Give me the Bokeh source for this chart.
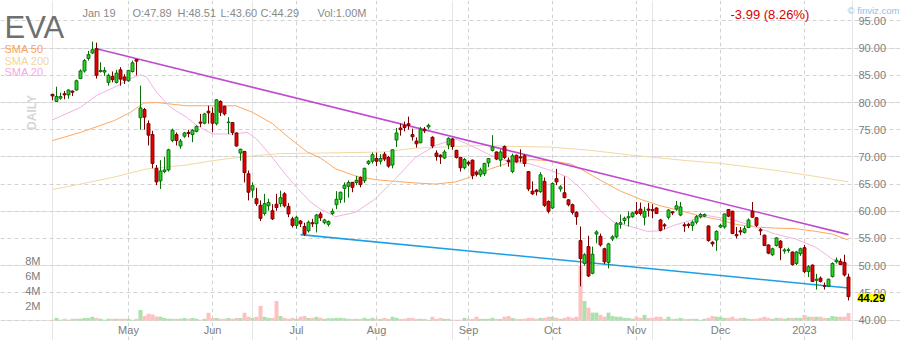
from math import pi
from bokeh.plotting import figure
from bokeh.models import (ColumnDataSource, Range1d, LinearAxis, FixedTicker, Label, Grid,
                          CustomJSTickFormatter)
from bokeh.embed import file_html
from bokeh.resources import INLINE

# ---------------- data (daily candles, Apr 4 2022 .. Jan 19 2023) ----------------
opens = [81.5, 80.2, 80.8, 81.6, 81.4, 82.1, 82.3, 84.4, 85.8, 88.1,
         89.1, 89.9, 85.7, 85.6, 83.7, 84.8, 83.7, 86.0, 84.7, 84.0,
         85.7, 87.9, 77.2, 78.7, 76.1, 74.1, 67.9, 65.6, 67.3, 67.6,
         73.0, 74.1, 72.0, 73.8, 74.5, 74.1, 74.7, 76.4, 76.2, 78.4,
         78.0, 76.1, 80.2, 79.3, 76.3, 76.3, 74.4, 70.7, 71.0, 66.9,
         63.9, 62.3, 61.1, 59.6, 61.0, 60.1, 61.3, 61.4, 63.2, 60.9,
         58.6, 57.4, 58.2, 57.2, 56.4, 57.9, 57.7, 59.5, 57.9, 57.6,
         59.6, 61.2, 62.2, 64.2, 64.6, 65.3, 65.3, 66.2, 65.6, 68.8,
         69.2, 69.7, 69.2, 70.5, 69.9, 68.5, 73.1, 75.3, 75.8, 76.1,
         74.1, 72.9, 72.6, 75.1, 75.5, 73.6, 70.7, 70.3, 69.8, 72.2,
         73.3, 71.2, 69.9, 68.0, 69.0, 69.4, 67.2, 66.7, 66.9, 68.9,
         71.2, 70.9, 69.4, 71.9, 69.4, 67.3, 70.3, 70.0, 70.2, 67.3,
         63.7, 63.9, 63.6, 65.5, 61.8, 60.6, 66.0, 64.1, 63.4, 62.1,
         61.2, 59.8, 54.6, 50.4, 53.5, 48.6, 55.8, 55.4, 53.1, 50.6,
         54.9, 55.3, 57.6, 58.3, 58.8, 59.0, 60.0, 60.4, 58.9, 60.4,
         60.3, 60.6, 58.4, 57.5, 58.9, 59.9, 60.4, 59.3, 57.5, 57.6,
         57.4, 58.0, 59.0, 59.1, 57.3, 54.3, 54.7, 57.1, 57.1, 60.3,
         60.0, 55.7, 56.4, 56.1, 57.0, 60.0, 58.8, 56.6, 55.6, 53.8,
         52.0, 53.7, 54.5, 52.7, 52.8, 52.5, 50.4, 52.2, 53.3, 48.9,
         50.1, 47.3, 47.7, 46.3, 46.2, 48.0, 50.7, 50.8, 50.6, 47.89]
highs = [81.6, 82.9, 81.8, 82.1, 82.4, 82.2, 84.2, 86.1, 88.0, 89.5,
         91.2, 91.0, 87.4, 86.5, 85.3, 85.7, 86.0, 86.5, 85.2, 86.0,
         87.7, 87.9, 83.1, 79.0, 76.7, 74.8, 68.5, 69.4, 70.0, 71.5,
         75.2, 74.5, 73.3, 74.6, 75.0, 75.1, 75.8, 77.9, 78.1, 79.4,
         79.1, 80.6, 80.4, 79.4, 77.3, 76.4, 74.5, 71.5, 71.1, 67.5,
         65.3, 64.3, 62.0, 63.2, 62.3, 61.3, 63.2, 63.8, 63.5, 61.5,
         59.0, 59.2, 58.4, 57.9, 58.3, 58.6, 59.5, 59.9, 58.6, 58.3,
         60.5, 63.7, 63.6, 65.3, 65.7, 65.4, 66.5, 66.4, 68.0, 69.4,
         70.8, 70.8, 70.5, 70.9, 70.2, 71.4, 75.3, 76.1, 76.5, 77.4,
         75.2, 73.6, 75.5, 75.5, 76.1, 73.8, 71.2, 70.5, 71.3, 73.6,
         73.5, 71.3, 70.0, 69.8, 69.3, 69.5, 67.5, 68.0, 68.9, 69.8,
         74.0, 71.0, 71.4, 72.1, 69.9, 70.6, 70.4, 71.4, 70.5, 67.4,
         65.5, 64.1, 67.2, 66.2, 62.0, 65.3, 67.8, 64.8, 66.4, 62.2,
         61.4, 60.0, 57.2, 52.3, 55.5, 53.5, 56.5, 55.9, 53.3, 54.2,
         55.6, 58.0, 59.4, 59.0, 60.0, 59.9, 61.7, 61.6, 60.8, 61.5,
         61.3, 60.7, 58.6, 57.8, 60.4, 60.0, 61.9, 61.7, 57.9, 57.9,
         58.3, 59.3, 59.7, 59.6, 57.4, 54.5, 56.5, 57.7, 59.6, 60.4,
         60.1, 57.1, 57.1, 57.3, 58.7, 61.7, 58.9, 56.9, 55.7, 53.9,
         53.3, 55.2, 54.7, 53.2, 53.3, 52.6, 52.7, 53.3, 53.8, 50.1,
         50.2, 48.5, 48.0, 46.9, 47.6, 50.6, 51.5, 51.3, 52.0, 48.51]
lows = [80.4, 80.1, 80.5, 80.6, 80.7, 81.2, 82.2, 84.3, 85.5, 87.7,
        88.9, 84.4, 85.5, 84.9, 83.1, 83.7, 83.5, 83.1, 83.4, 83.8,
        85.5, 85.0, 75.0, 75.0, 72.1, 67.9, 64.8, 64.1, 67.0, 67.3,
        72.7, 72.1, 71.5, 73.5, 73.6, 72.7, 74.5, 75.5, 76.0, 76.1,
        74.5, 75.8, 77.5, 77.6, 74.2, 74.0, 71.9, 69.3, 65.3, 62.0,
        62.5, 61.0, 58.2, 59.2, 60.1, 58.4, 60.1, 60.8, 60.7, 58.9,
        57.0, 56.8, 57.1, 55.5, 56.1, 57.1, 56.1, 58.2, 57.6, 57.2,
        59.3, 60.4, 61.5, 61.6, 62.5, 63.5, 64.8, 64.4, 65.2, 68.5,
        68.8, 68.3, 68.6, 69.2, 68.0, 67.9, 71.8, 73.9, 74.7, 75.0,
        73.0, 71.7, 72.5, 74.4, 75.1, 71.6, 69.3, 68.7, 69.6, 71.4,
        71.3, 69.7, 67.3, 67.7, 68.3, 65.9, 66.4, 66.3, 66.5, 68.1,
        71.0, 69.4, 68.2, 69.6, 68.2, 67.0, 68.9, 69.0, 68.2, 63.7,
        63.0, 62.9, 63.4, 60.8, 59.6, 60.4, 64.8, 63.6, 62.4, 60.9,
        59.4, 57.5, 46.2, 50.0, 47.9, 48.4, 54.1, 53.5, 50.3, 49.5,
        54.5, 55.0, 56.8, 57.6, 57.2, 58.8, 59.3, 59.2, 57.4, 59.0,
        58.7, 59.5, 56.3, 56.7, 58.5, 59.3, 60.1, 59.1, 56.2, 56.9,
        56.4, 57.6, 58.7, 58.9, 54.4, 53.5, 52.7, 56.9, 56.8, 58.9,
        55.8, 55.0, 55.6, 55.9, 56.9, 58.8, 57.1, 55.6, 53.6, 52.1,
        51.8, 53.5, 51.0, 52.2, 52.4, 50.0, 50.1, 51.8, 48.6, 47.9,
        47.0, 45.6, 46.9, 45.6, 46.1, 47.8, 50.4, 50.1, 48.0, 43.60]
closes = [81.2, 81.1, 81.1, 81.4, 82.3, 81.9, 84.0, 85.8, 87.7, 88.8,
          89.7, 85.0, 85.9, 85.9, 85.0, 84.2, 85.4, 84.3, 84.1, 85.9,
          87.3, 87.6, 79.0, 77.3, 74.0, 68.8, 65.4, 67.4, 67.6, 71.3,
          74.9, 73.0, 72.9, 74.4, 74.3, 74.9, 75.6, 76.2, 77.9, 78.1,
          76.2, 80.5, 78.2, 77.9, 76.4, 74.5, 72.0, 71.4, 67.1, 63.5,
          64.7, 61.4, 58.7, 61.4, 61.6, 58.6, 60.7, 62.5, 61.0, 59.5,
          57.4, 58.9, 57.7, 55.8, 58.0, 57.7, 59.3, 58.8, 58.4, 58.1,
          60.0, 62.2, 63.5, 64.8, 65.3, 64.4, 65.7, 64.9, 67.9, 69.2,
          70.4, 69.2, 69.7, 69.6, 68.3, 71.3, 74.4, 75.0, 75.4, 75.8,
          73.7, 72.4, 75.1, 74.8, 75.8, 72.0, 70.1, 70.0, 70.9, 73.4,
          71.9, 69.9, 68.0, 69.5, 68.7, 66.6, 66.8, 67.6, 68.8, 69.7,
          71.8, 69.6, 70.9, 69.9, 69.1, 70.2, 69.1, 69.8, 68.8, 64.1,
          63.2, 63.6, 66.7, 61.1, 60.0, 65.1, 65.4, 64.5, 62.5, 61.2,
          59.8, 59.0, 51.3, 52.0, 48.1, 52.1, 56.2, 53.8, 50.7, 54.0,
          55.3, 57.7, 57.9, 58.7, 59.0, 59.7, 59.6, 59.6, 60.0, 60.2,
          60.1, 59.6, 56.5, 57.3, 60.2, 59.7, 61.0, 60.8, 57.3, 57.4,
          58.0, 59.0, 59.4, 59.4, 54.6, 54.0, 56.3, 57.4, 59.5, 59.1,
          55.9, 55.5, 56.2, 56.8, 58.4, 58.9, 57.4, 56.4, 53.7, 52.3,
          53.1, 55.1, 53.3, 52.9, 52.9, 50.2, 52.5, 53.1, 48.9, 49.8,
          47.1, 47.5, 47.1, 46.2, 47.5, 50.4, 51.0, 50.2, 48.28, 44.29]
volumes_m = [0.1, 0.35, 0.1, 0.22, 0.1, 0.22, 0.22, 0.22, 0.35, 0.35,
             0.5, 0.35, 0.22, 0.1, 0.22, 0.22, 0.22, 0.22, 0.22, 0.22,
             0.1, 0.22, 1.4, 0.6, 0.9, 0.8, 0.53, 0.5, 0.35, 0.22,
             0.22, 0.22, 0.22, 0.35, 0.22, 0.35, 0.22, 0.1, 0.22, 1.05,
             0.35, 0.35, 0.22, 0.22, 0.35, 0.22, 0.35, 0.35, 1.05, 0.5,
             0.35, 0.5, 1.95, 0.5, 0.35, 0.35, 2.6, 0.6, 0.35, 0.22,
             0.35, 0.22, 0.5, 0.6, 0.35, 0.35, 0.5, 0.35, 0.22, 0.3,
             0.3, 0.35, 0.35, 0.3, 0.22, 0.22, 0.22, 0.22, 0.35, 0.22,
             0.35, 0.22, 0.22, 0.35, 0.22, 0.5, 0.35, 0.22, 0.22, 0.35,
             0.35, 0.22, 0.22, 0.22, 0.1, 0.5, 0.22, 0.35, 0.22, 0.22,
             0.1, 0.1, 0.1, 0.35, 0.22, 0.22, 0.5, 0.22, 0.22, 0.22,
             0.35, 0.22, 0.22, 0.5, 0.6, 0.35, 0.22, 0.22, 0.22, 0.35,
             0.35, 0.22, 0.35, 0.35, 0.5, 0.5, 0.35, 0.22, 0.35, 0.5,
             0.35, 0.5, 7.3, 2.6, 1.7, 1.05, 1.05, 0.75, 0.5, 1.05,
             0.6, 0.5, 0.5, 0.35, 0.35, 0.22, 0.5, 0.35, 0.75, 0.35,
             0.35, 0.5, 0.5, 0.22, 0.5, 0.22, 0.22, 0.35, 0.22, 0.22,
             0.22, 0.22, 0.1, 0.22, 0.35, 0.6, 0.5, 0.5, 0.35, 0.35,
             0.5, 0.22, 0.35, 0.35, 0.22, 0.22, 0.22, 0.35, 0.5, 0.35,
             0.22, 0.35, 0.35, 0.22, 0.35, 0.35, 0.35, 0.35, 0.75, 0.5,
             0.5, 0.5, 0.5, 0.35, 0.35, 0.6, 0.5, 0.5, 0.5, 1.0]

# moving averages (trading-day index, value)
sma20_idx = [0, 7, 11, 15.5, 19.5, 22, 23.5, 26, 29.5, 33.5, 36, 40, 44.5, 48.7, 51, 54.5,
             57.8, 61, 64.5, 67, 70.75, 75.75, 80.75, 85.75, 90.75, 95.75, 100.75, 104.5,
             109.5, 114.5, 119.5, 124.5, 128.7, 132, 137, 140.3, 144.5, 148.7, 152, 155.3,
             159.5, 163.7, 167, 170.75, 175.75, 180.75, 185.75, 190.75, 195, 199]
sma20_val = [76.8, 79.1, 81.3, 82.8, 84.4, 85.1, 84.7, 81.9, 79.1, 77.3, 75.8, 74.2, 74.2, 74.5,
             73.3, 70.3, 67.2, 64.4, 61.7, 60.4, 59.0, 59.8, 62.3, 66.0, 69.9, 72.1, 73.3, 72.1,
             70.3, 69.0, 68.7, 67.5, 66.3, 64.2, 60.1, 58.0, 57.2, 56.3, 56.4, 57.4, 58.3, 59.2,
             58.8, 58.3, 57.1, 55.8, 54.9, 53.4, 51.2, 50.2]
sma50_idx = [0, 7, 15.5, 19.5, 22.8, 26, 33.5, 40, 45.8, 50, 55, 59.5, 63.7, 67, 70.75, 75.75,
             80.75, 85.75, 90.75, 95.75, 100.75, 104.5, 109.5, 114.5, 119.5, 124.5, 129.5, 132,
             137, 142, 147, 152, 157, 162, 167, 170.75, 175.75, 180.75, 185.75, 190.75, 195, 199]
sma50_val = [73.0, 74.5, 76.7, 78.2, 79.9, 80.0, 79.4, 79.4, 79.4, 78.2, 76.1, 73.3, 70.9, 69.8,
             67.8, 66.5, 65.8, 65.5, 65.2, 65.0, 65.4, 66.3, 67.8, 69.0, 69.5, 69.3, 68.7, 67.8,
             65.7, 63.7, 62.2, 61.0, 60.1, 59.1, 58.4, 57.6, 57.1, 56.9, 56.8, 56.3, 55.8, 54.7]
sma200_idx = [0, 7, 15.5, 23.7, 33.5, 40, 48.7, 57, 67, 82.4, 90.75, 100.75, 107.8, 116.2,
              124.5, 134.5, 145, 158.7, 167, 180, 190, 199]
sma200_val = [64.0, 65.0, 66.3, 67.8, 68.5, 69.3, 70.1, 70.6, 70.7, 70.9, 71.6, 71.9, 72.1, 71.9,
              71.8, 71.2, 70.3, 69.3, 68.8, 67.6, 66.5, 65.4]

# trend lines (index, price)
upper_trend_idx = [11, 199]
upper_trend_val = [89.9, 55.7]
lower_trend_idx = [62, 199]
lower_trend_val = [55.7, 45.9]

# axis ticks
month_idx = [19, 40, 61, 81, 104, 125, 146, 167, 188]
month_lbl = ["May", "Jun", "Jul", "Aug", "Sep", "Oct", "Nov", "Dec", "2023"]
price_ticks = [40, 45, 50, 55, 60, 65, 70, 75, 80, 85, 90, 95]
vol_ticks_m = [2, 4, 6, 8]

ticker = "EVA"
header = ["Jan 19", "O:47.89", "H:48.51", "L:43.60", "C:44.29", "Vol:1.00M"]
change_txt = "-3.99 (8.26%)"
last_price = "44.29"

# ---------------- styling ----------------
FONT = "Liberation Sans"
GRID = "#d2d2d2"
UP_FILL, UP_LINE = "#27d327", "#0b6e0b"
DN_FILL, DN_LINE = "#e00000", "#780000"
VOL_UP, VOL_DN = "#aae2aa", "#ffc0c0"

n = len(closes)
idx = list(range(n))
up = [c >= o for o, c in zip(opens, closes)]
src = ColumnDataSource(dict(
    x=idx, o=opens, h=highs, l=lows, c=closes,
    top=[max(o, c) for o, c in zip(opens, closes)],
    bot=[min(o, c) for o, c in zip(opens, closes)],
    fill=[UP_FILL if u else DN_FILL for u in up],
    line=[UP_LINE if u else DN_LINE for u in up],
    vol=[v * 1e6 for v in volumes_m],
    vcol=[VOL_UP if u else VOL_DN for u in up],
))

# Plot area of the chart inside the 900x340 canvas: x 50..850, y 20..320
W, H = 900, 340
FL, FR, FT, FB = 50, 850, 20, 320
PX0, PX1 = -0.5, 199.5          # index at FL / FR
PY0, PY1 = 39.91, 95.08         # price at FB / FT
VMAX = 40e6                     # volume at FT (0 at FB)

kx = (PX1 - PX0) / (FR - FL)
ky = (PY1 - PY0) / (FB - FT)
kv = VMAX / (FB - FT)
XL, XR = PX0 - FL * kx, PX1 + (W - FR) * kx
YB, YT = PY0 - (H - FB) * ky, PY1 + FT * ky
VB, VT = -(H - FB) * kv, VMAX + FT * kv

def dx(px):
    return XL + px * kx

def dy(py):
    return YT - py * ky

p = figure(width=W, height=H, x_range=Range1d(XL, XR), y_range=Range1d(YB, YT),
           x_axis_location=None, y_axis_location=None,
           toolbar_location=None, output_backend="svg",
           min_border=0, min_border_left=0, min_border_right=0,
           min_border_top=0, min_border_bottom=0)
p.outline_line_color = None
p.background_fill_color = "white"
p.border_fill_color = "white"
p.extra_y_ranges = {"vol": Range1d(VB, VT)}

# axes (drawn at fixed locations along the chart area)
xa = LinearAxis(ticker=FixedTicker(ticks=month_idx), fixed_location=PY0)
xa.major_label_overrides = {m: s for m, s in zip(month_idx, month_lbl)}
ya = LinearAxis(ticker=FixedTicker(ticks=price_ticks), fixed_location=PX1,
                formatter=CustomJSTickFormatter(code="return tick.toFixed(2);"))
va = LinearAxis(y_range_name="vol", fixed_location=PX0,
                ticker=FixedTicker(ticks=[v * 1e6 for v in vol_ticks_m]),
                formatter=CustomJSTickFormatter(code="return (tick/1e6).toFixed(0) + 'M';"))
p.add_layout(xa, "below")
p.add_layout(ya, "right")
p.add_layout(va, "left")
for ax in (xa, ya, va):
    ax.axis_line_color = None
    ax.major_tick_line_color = None
    ax.minor_tick_line_color = None
    ax.major_tick_out = 0
    ax.major_tick_in = 0
    ax.minor_tick_out = 0
    ax.minor_tick_in = 0
    ax.major_label_text_font = FONT
    ax.major_label_text_font_size = "11px"
    ax.major_label_text_color = "#7d7d7d"
xa.major_label_standoff = 3
ya.major_label_standoff = 8
va.major_label_standoff = 10

p.add_layout(Grid(dimension=0, ticker=xa.ticker, bounds=(PY0, PY1),
                  grid_line_color=GRID, grid_line_dash="4 3"))
p.add_layout(Grid(dimension=1, ticker=ya.ticker, bounds=(PX0, PX1),
                  grid_line_color=GRID, grid_line_dash="4 3"))

# volume
p.vbar(x="x", top="vol", bottom=0, width=1.0, fill_color="vcol", line_color=None,
       y_range_name="vol", source=src)

# moving averages
p.line(sma200_idx, sma200_val, line_color="#f2d8a2", line_width=1)
p.line(sma50_idx, sma50_val, line_color="#ffa75e", line_width=1)
p.line(sma20_idx, sma20_val, line_color="#f4b0e4", line_width=1)

# trend lines
p.line(upper_trend_idx, upper_trend_val, line_color="#bf4ccf", line_width=1.6)
p.line(lower_trend_idx, lower_trend_val, line_color="#1d9fe3", line_width=1.6)

# candles
p.segment(x0="x", y0="h", x1="x", y1="l", line_color="line", line_width=1, source=src)
p.vbar(x="x", top="top", bottom="bot", width=0.72, fill_color="fill", line_color="line",
       line_width=1, source=src)

# ---------------- texts ----------------
def lab(px, py, text, size, color, style="normal", baseline="alphabetic", align="left",
        angle=0, bg=None):
    kw = {}
    if bg:
        kw["background_fill_color"] = bg
    p.add_layout(Label(x=dx(px), y=dy(py), text=text, text_font=FONT, text_font_size=size,
                       text_color=color, text_font_style=style, text_baseline=baseline,
                       text_align=align, angle=angle, **kw))

lab(4, 27, ticker, "31px", "#6f6f6f")
head_x = [82, 132, 177, 220, 260, 317]
for hx, t in zip(head_x, header):
    lab(hx, 12, t, "11px", "#8a8a8a")
lab(730, 14, change_txt, "13px", "#d60000")
lab(847, 10, "\u00a9 finviz.com", "9.5px", "#8cbfe6")
lab(4, 48, "SMA 50", "11px", "#ffa057")
lab(4, 60, "SMA 200", "11px", "#f2d59c")
lab(4, 71, "SMA 20", "11px", "#f3aae2")
lab(31, 112, "DAILY", "12px", "#d6d6d6", style="bold", baseline="middle", align="center",
    angle=pi / 2)
lab(857, 297, last_price, "11px", "#000000", style="bold", baseline="middle", bg="#ffff00")

open("out.html", "w").write(file_html(p, INLINE))
